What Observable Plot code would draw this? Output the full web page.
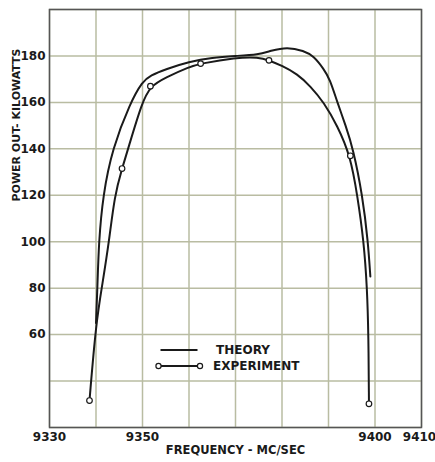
<!DOCTYPE html>
<html>
<head>
<meta charset="utf-8">
<script src="https://cdn.jsdelivr.net/npm/d3@7"></script>
<script src="https://cdn.jsdelivr.net/npm/@observablehq/plot@0.6"></script>
<style>
  html, body { margin: 0; padding: 0; background: #fff; }
  #wrap { position: relative; width: 435px; height: 462px; }
  #legend { position: absolute; left: 0; top: 0; }
  text { font-family: "DejaVu Sans", sans-serif; }
</style>
</head>
<body>
<div id="wrap"></div>
<script>
// Theory curve (frequency MC/sec, power kW)
const theoryFreq  = [9340.0, 9340.3, 9340.6, 9341.5, 9343.5, 9347.4, 9350, 9351.7, 9355, 9360, 9365, 9370, 9375, 9377.5, 9381.1, 9384.7, 9386.8, 9389.0, 9390.3, 9391.9, 9393.7, 9395.3, 9397.3, 9398.5, 9399.0];
const theoryPower = [65, 80, 100, 120, 140, 160, 169, 171.6, 174.3, 177.5, 179.3, 180, 180.6, 182.2, 183.9, 182.2, 180, 174.3, 170, 160, 150, 140, 120, 100, 85];

// Experiment fitted curve
const expCurveFreq  = [9338.6, 9340.0, 9341.4, 9342.8, 9344.0, 9345.6, 9346.9, 9349.9, 9351.7, 9355, 9360, 9362.5, 9370, 9375, 9377.2, 9380, 9383.3, 9386.1, 9389.0, 9391.9, 9394.7, 9396.2, 9397.6, 9398.3, 9398.6, 9398.7];
const expCurvePower = [31.6, 65, 82, 100, 120, 131.5, 140, 160, 167, 170.7, 175.3, 176.7, 179.3, 179.5, 178.1, 175.8, 172.2, 167, 160, 150, 137, 120, 100, 80, 60, 30.2];

// Experiment measured points (circles)
const expFreq  = [9338.6, 9345.6, 9351.7, 9362.5, 9377.2, 9394.7, 9398.7];
const expPower = [31.6, 131.5, 167, 176.7, 178.1, 137, 30.2];

// Axis ticks
const xGrid = [9330, 9340, 9350, 9360, 9370, 9380, 9390, 9400, 9410];
const yGrid = [20, 40, 60, 80, 100, 120, 140, 160, 180, 200];
const xTickLabels = [9330, 9350, 9400];
const xLastTickLabel = [9410];
const yTickLabels = [60, 80, 100, 120, 140, 160, 180];

const theory = theoryFreq.map((f, i) => ({f, p: theoryPower[i]}));
const expCurve = expCurveFreq.map((f, i) => ({f, p: expCurvePower[i]}));
const expPts = expFreq.map((f, i) => ({f, p: expPower[i]}));

const ink = "#1a1a1a";
const gridColor = "#b9bca2";

const chart = Plot.plot({
  width: 435,
  height: 462,
  marginLeft: 49,
  marginRight: 14,
  marginTop: 9,
  marginBottom: 35,
  style: {fontFamily: "DejaVu Sans, sans-serif", fontWeight: "bold", fontSize: "12px", color: ink, background: "#fff"},
  x: {domain: [9330, 9410]},
  y: {domain: [20, 200]},
  marks: [
    Plot.gridX(xGrid, {stroke: gridColor, strokeOpacity: 1, strokeWidth: 1.5}),
    Plot.gridY(yGrid, {stroke: gridColor, strokeOpacity: 1, strokeWidth: 1.5}),
    Plot.frame({stroke: "#555", strokeWidth: 1.5}),
    Plot.axisX({ticks: xTickLabels, tickSize: 0, tickPadding: 5, label: null, tickFormat: d => String(d), fontSize: 12, fontWeight: "bold"}),
    Plot.axisX({ticks: xLastTickLabel, tickSize: 0, tickPadding: 5, label: null, tickFormat: d => String(d), fontSize: 12, fontWeight: "bold", dx: -2}),
    Plot.axisY({ticks: yTickLabels, tickSize: 0, tickPadding: 4, label: null, tickFormat: d => String(d), fontSize: 12, fontWeight: "bold"}),
    Plot.text(["FREQUENCY - MC/SEC"], {text: d => d, frameAnchor: "bottom", dy: 26, fontSize: 11.5, fontWeight: "bold", fill: ink}),
    Plot.text(["POWER OUT- KILOWATTS"], {text: d => d, frameAnchor: "left", dx: -33, dy: -17, rotate: -90, fontSize: 11, fontWeight: "bold", fill: ink}),
    Plot.line(theory, {x: "f", y: "p", curve: "basis", stroke: ink, strokeWidth: 2}),
    Plot.line(expCurve, {x: "f", y: "p", curve: "basis", stroke: ink, strokeWidth: 2}),
    Plot.dot(expPts, {x: "f", y: "p", r: 2.8, fill: "#fff", stroke: ink, strokeWidth: 1.2})
  ]
});
document.getElementById("wrap").appendChild(chart);

// In-chart legend
const ns = "http://www.w3.org/2000/svg";
const leg = document.createElementNS(ns, "svg");
leg.setAttribute("id", "legend");
leg.setAttribute("width", 435);
leg.setAttribute("height", 462);
leg.innerHTML = `
  <line x1="160.5" x2="197.5" y1="350" y2="350" stroke="${ink}" stroke-width="2"/>
  <line x1="158.5" x2="200" y1="366" y2="366" stroke="${ink}" stroke-width="2"/>
  <circle cx="158.5" cy="366" r="2.6" fill="#fff" stroke="${ink}" stroke-width="1.2"/>
  <circle cx="200" cy="366" r="2.6" fill="#fff" stroke="${ink}" stroke-width="1.2"/>
  <text x="216" y="350" dy="0.36em" font-size="12" font-weight="bold" fill="${ink}">THEORY</text>
  <text x="213" y="366" dy="0.36em" font-size="12" font-weight="bold" fill="${ink}">EXPERIMENT</text>
`;
document.getElementById("wrap").appendChild(leg);
</script>
</body>
</html>
